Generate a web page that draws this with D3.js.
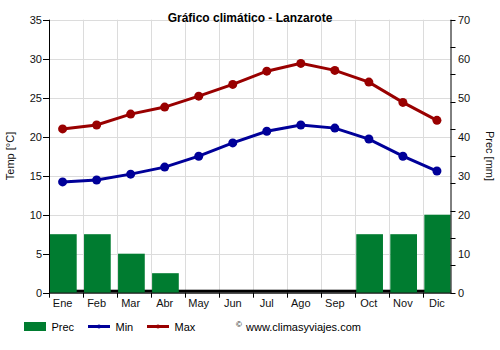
<!DOCTYPE html>
<html><head><meta charset="utf-8">
<script src="https://cdn.jsdelivr.net/npm/d3@7"></script>
<style>body{margin:0;background:#fff}svg{display:block;font-family:"Liberation Sans",Arial,sans-serif}</style>
</head><body>
<script>
const months = ["Ene","Feb","Mar","Abr","May","Jun","Jul","Ago","Sep","Oct","Nov","Dic"];
const tempMax = [21.0,21.5,22.9,23.8,25.2,26.7,28.4,29.4,28.5,27.0,24.4,22.1];
const tempMin = [14.2,14.45,15.2,16.1,17.5,19.2,20.7,21.5,21.1,19.7,17.5,15.6];
const precip = [15,15,10,5,0,0,0,0,0,15,15,20];
const tempTicks = [0,5,10,15,20,25,30,35];
const precLabelTicks = [0,10,20,30,40,50,60,70];
const precMinorTicks = [0,7,14,21,28,35,42,49,56,63,70];

(function(){
const W=500,H=350;
const pL=49,pR=450.5,pT=19.7,pB=292.7,step=34.03;
const svg=d3.select("body").append("svg").attr("width",W).attr("height",H);

const x=d3.scaleBand().domain(months).range([pL,pL+step*12]).paddingInner(0).paddingOuter(0);
const yT=d3.scaleLinear().domain([0,35]).range([pB,pT]);
const yP=d3.scaleLinear().domain([0,70]).range([pB,pT]);
const cx=m=>x(m)+13.6;

svg.append("defs").append("clipPath").attr("id","plot").append("rect")
  .attr("x",pL).attr("y",pT-1).attr("width",pR-pL).attr("height",pB-pT+2);

// grid
const g=svg.append("g");
g.selectAll(".hg").data(tempTicks.slice(1)).join("line")
  .attr("x1",pL).attr("x2",pR).attr("y1",d=>Math.round(yT(d))+0.5).attr("y2",d=>Math.round(yT(d))+0.5)
  .attr("stroke","#dcdcdc").attr("stroke-width",1);
g.selectAll(".vg").data(months.slice(1)).join("line")
  .attr("x1",d=>Math.round(x(d))+0.5).attr("x2",d=>Math.round(x(d))+0.5)
  .attr("y1",pT).attr("y2",pB).attr("stroke","#dcdcdc");

// dark base strip
svg.append("rect").attr("x",pL).attr("y",pB-3).attr("width",pR-pL).attr("height",3).attr("fill","#000");

// bars
svg.append("g").attr("clip-path","url(#plot)").selectAll("rect").data(months).join("rect")
  .attr("x",d=>x(d)+1).attr("width",26.7)
  .attr("y",(d,i)=>yP(precip[i])).attr("height",(d,i)=>pB-yP(precip[i]))
  .attr("fill","#007c30");

// lines
function series(vals,color){
  const line=d3.line().x((d,i)=>cx(months[i])).y(d=>yT(d));
  svg.append("path").datum(vals).attr("d",line).attr("fill","none").attr("stroke",color).attr("stroke-width",3);
  svg.append("g").selectAll("circle").data(vals).join("circle")
    .attr("cx",(d,i)=>cx(months[i])).attr("cy",d=>yT(d)).attr("r",4.5).attr("fill",color);
}
series(tempMax,"#990000");
series(tempMin,"#000099");

// left axis
const la=svg.append("g").attr("font-size",11);
la.append("line").attr("x1",pL+0.5).attr("x2",pL+0.5).attr("y1",pT).attr("y2",pB+0.5).attr("stroke","#000");
la.selectAll(".t").data(tempTicks).join("line")
  .attr("x1",pL-6).attr("x2",pL).attr("y1",d=>Math.round(yT(d))+0.5).attr("y2",d=>Math.round(yT(d))+0.5).attr("stroke","#000");
la.selectAll("text").data(tempTicks).join("text")
  .attr("x",42).attr("y",d=>yT(d)+4).attr("text-anchor","end").attr("fill","#111").text(d=>d);

// right axis
const ra=svg.append("g").attr("font-size",11);
ra.append("line").attr("x1",pR+0.5).attr("x2",pR+0.5).attr("y1",pT).attr("y2",pB+0.5).attr("stroke","#000");
ra.selectAll(".t").data(precMinorTicks).join("line")
  .attr("x1",pR).attr("x2",pR+5).attr("y1",d=>Math.round(yP(d))+0.5).attr("y2",d=>Math.round(yP(d))+0.5).attr("stroke","#000");
ra.selectAll("text").data(precLabelTicks).join("text")
  .attr("x",458).attr("y",d=>yP(d)+4).attr("text-anchor","start").attr("fill","#111").text(d=>d);

// x axis
const xa=svg.append("g").attr("font-size",11);
xa.append("line").attr("x1",pL).attr("x2",pR+1).attr("y1",pB+0.5).attr("y2",pB+0.5).attr("stroke","#000");
xa.selectAll(".t").data(months).join("line")
  .attr("x1",d=>Math.round(x(d))+0.5).attr("x2",d=>Math.round(x(d))+0.5).attr("y1",pB).attr("y2",pB+5).attr("stroke","#000");
xa.selectAll("text").data(months).join("text")
  .attr("x",d=>cx(d)).attr("y",307).attr("text-anchor","middle").attr("fill","#111").text(d=>d);

// titles
svg.append("text").attr("x",250).attr("y",22).attr("text-anchor","middle").attr("font-size",12).attr("font-weight","bold").text("Gráfico climático - Lanzarote");
svg.append("text").attr("transform","translate(14,156) rotate(-90)").attr("text-anchor","middle").attr("font-size",11).attr("fill","#111").text("Temp [°C]");
svg.append("text").attr("transform","translate(486,156) rotate(90)").attr("text-anchor","middle").attr("font-size",11).attr("fill","#111").text("Prec [mm]");

// legend
const lg=svg.append("g").attr("font-size",11);
lg.append("rect").attr("x",24).attr("y",322).attr("width",22).attr("height",9).attr("fill","#007c30");
lg.append("text").attr("x",51.5).attr("y",330.5).text("Prec");
[[88,"#000099","Min"],[147,"#990000","Max"]].forEach(([lx,c,t])=>{
  lg.append("line").attr("x1",lx).attr("x2",lx+22).attr("y1",326.5).attr("y2",326.5).attr("stroke",c).attr("stroke-width",3);
  lg.append("circle").attr("cx",lx+11).attr("cy",326.5).attr("r",2).attr("fill",c);
  lg.append("text").attr("x",lx+27.5).attr("y",330.5).text(t);
});
lg.append("text").attr("x",236).attr("y",327).attr("font-size",8).text("©");
lg.append("text").attr("x",246).attr("y",330.5).text("www.climasyviajes.com");
})();
</script>
</body></html>
